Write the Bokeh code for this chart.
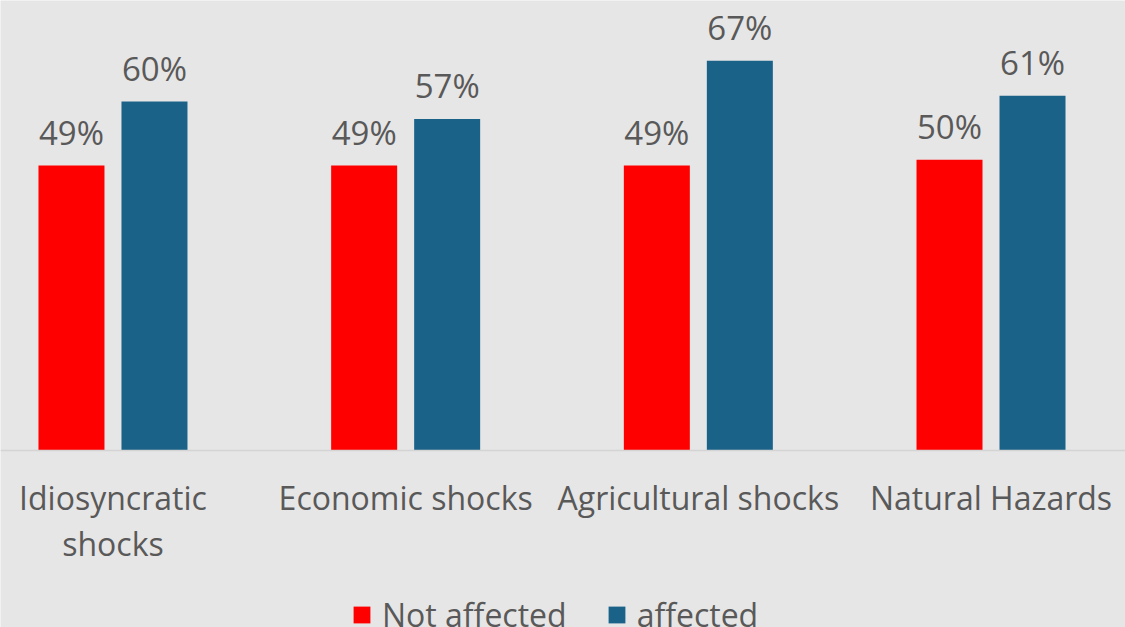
from bokeh.plotting import figure
from bokeh.models import ColumnDataSource, Range1d, Legend, LegendItem, Span
from bokeh.core.properties import value
from bokeh.embed import file_html
from bokeh.resources import INLINE

categories = ["Idiosyncratic\nshocks", "Economic shocks", "Agricultural shocks", "Natural Hazards"]
series_names = ["Not affected", "affected"]
not_affected = [49, 49, 49, 50]
affected = [60, 57, 67, 61]

RED = "#ff0000"
BLUE = "#1b6289"
TXT = "#595959"
BG = "#e7e6e6"
FONT = "Open Sans"

xs = list(range(len(categories)))
off = 0.1418
bw = 0.2255

src_a = ColumnDataSource(dict(x=[x - off for x in xs], top=not_affected,
                              lab=[f"{v}%" for v in not_affected]))
src_b = ColumnDataSource(dict(x=[x + off for x in xs], top=affected,
                              lab=[f"{v}%" for v in affected]))
src_c = ColumnDataSource(dict(x=xs, y=[0] * len(xs), lab=categories))

p = figure(frame_width=1125, frame_height=627, output_backend="svg", toolbar_location=None,
           x_range=Range1d(-0.3843, 3.4595), y_range=Range1d(-30.43, 77.36),
           min_border_left=0, min_border_right=0, min_border_top=0, min_border_bottom=0,
           background_fill_color=BG, border_fill_color=BG, outline_line_color=None)

r1 = p.vbar(x="x", top="top", width=bw, source=src_a, fill_color=RED, line_color=None)
r2 = p.vbar(x="x", top="top", width=bw, source=src_b, fill_color=BLUE, line_color=None)

for s in (src_a, src_b):
    p.text(x="x", y="top", text="lab", source=s, text_align="center",
           text_baseline="alphabetic", y_offset=-33, text_color=TXT,
           text_font=value(FONT), text_font_size="33px")

# baseline (category axis line)
p.add_layout(Span(location=0, dimension="width", line_color="#d4d4d4", line_width=1.5))

# category labels
p.text(x="x", y="y", text="lab", source=src_c, text_align="center",
       text_baseline="top", y_offset=26, text_color=TXT, text_line_height=1.05,
       text_font=value(FONT), text_font_size="32px")

p.xaxis.visible = False
p.yaxis.visible = False
p.xgrid.visible = False
p.ygrid.visible = False

legend = Legend(items=[LegendItem(label=series_names[0], renderers=[r1]),
                       LegendItem(label=series_names[1], renderers=[r2])],
                orientation="horizontal", location=(351, -8.5),
                glyph_width=21, glyph_height=21, label_standoff=10, spacing=39,
                label_text_font=FONT, label_text_font_size="32px", label_text_color=TXT,
                background_fill_alpha=0, border_line_alpha=0, padding=0, margin=0)
p.add_layout(legend, "center")

open("out.html", "w").write(file_html(p, INLINE))
